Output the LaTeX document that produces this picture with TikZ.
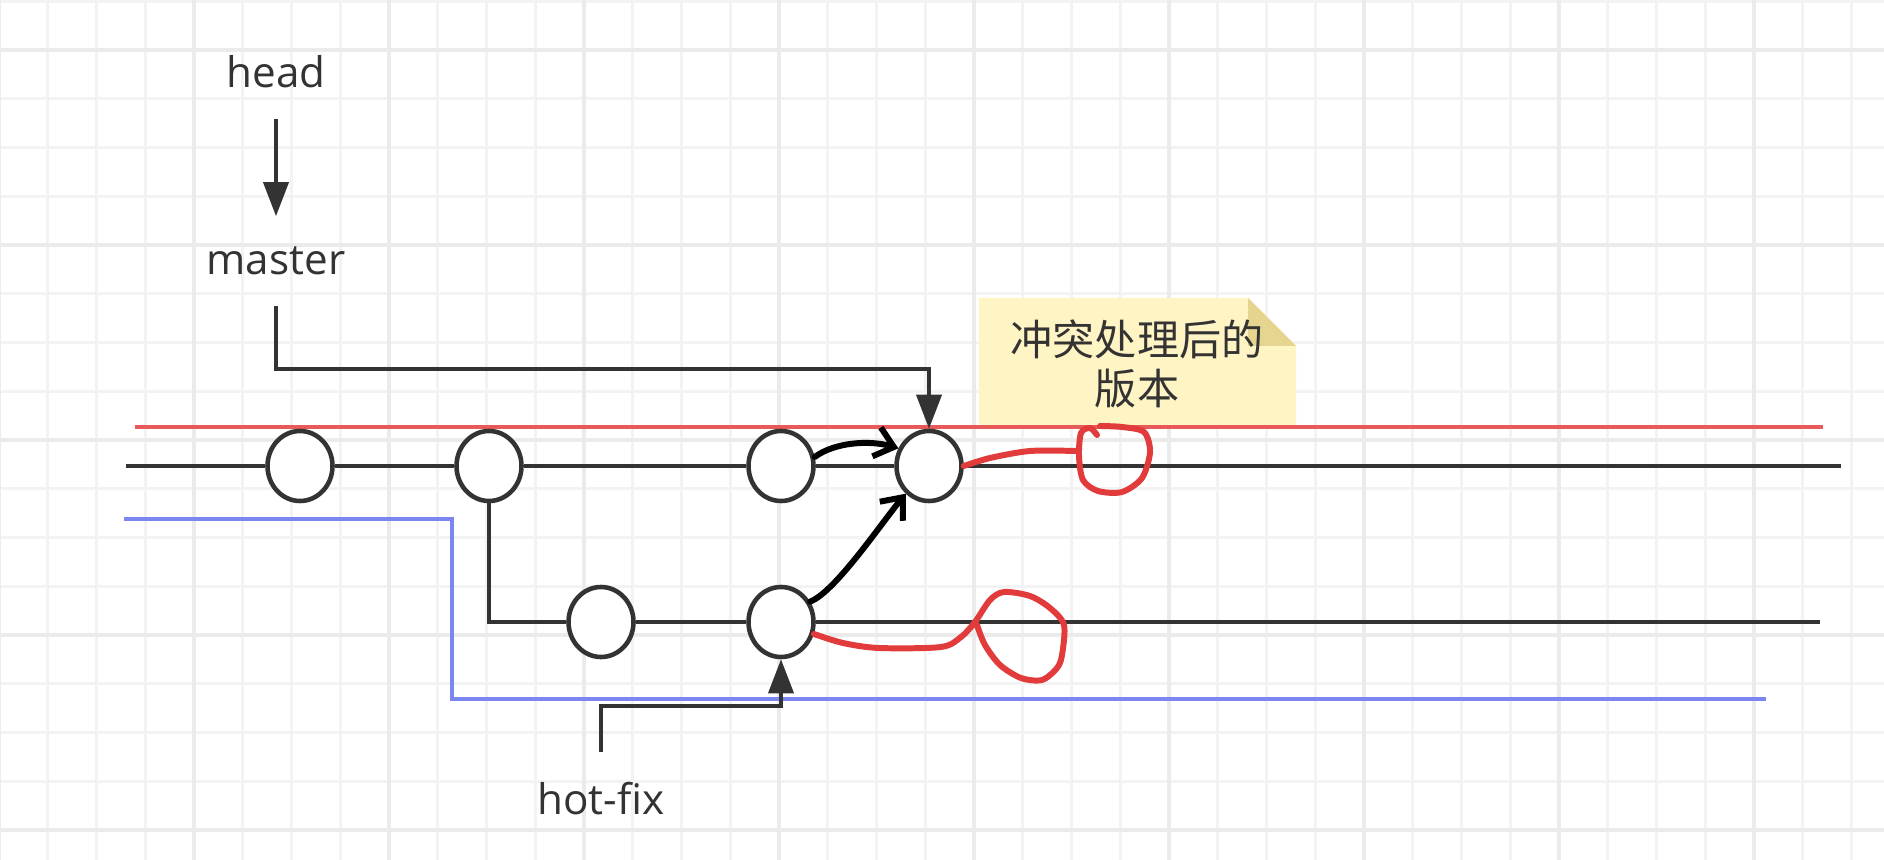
\documentclass[tikz,border=0pt]{standalone}
\usepackage{fontspec}
\setmainfont{Open Sans}
\newfontfamily\cjk{Noto Sans CJK SC}
\usepackage{tikz}
\usetikzlibrary{arrows.meta,calc,shapes.geometric}
\definecolor{inkgrey}{HTML}{333333}
\definecolor{gridminor}{HTML}{F3F3F3}
\definecolor{gridmajor}{HTML}{EBEBEB}
\definecolor{mergered}{HTML}{E8595A}
\definecolor{penred}{HTML}{E23B3B}
\definecolor{fixblue}{HTML}{7B86F0}
\definecolor{notefill}{HTML}{FFF4C3}
\definecolor{notefold}{HTML}{E6D590}

\begin{document}
\begin{tikzpicture}[x=0.1mm,y=-0.1mm,font=\fontsize{12}{13.7}\selectfont,
  commit/.style={ellipse,draw=inkgrey,line width=1.3pt,fill=white,
                 minimum width=6.5mm,minimum height=7mm,inner sep=0pt},
  track/.style={draw=inkgrey,line width=1.1pt},
  ptr/.style={track,-{Triangle[length=3.4mm,width=2.5mm]}},
  branchlabel/.style={text=inkgrey,inner sep=3mm},
  scribble/.style={line width=1.7pt,line cap=round,line join=round},
  gridthin/.style={draw=gridminor,line width=0.9pt},
  gridthick/.style={draw=gridmajor,line width=0.9pt}]
\fill[white] (0,0) rectangle (1884,860);
\useasboundingbox (0,0) rectangle (1884,860);
\foreach \k in {0,...,37} {\draw[gridthin] (47.75+48.75*\k,0) -- ++(0,860);}
\foreach \k in {0,...,17} {\draw[gridthin] (0,1.25+48.75*\k) -- ++(1884,0);}
\foreach \k in {0,...,9} {\draw[gridthick] (-1+195*\k,0) -- ++(0,860);}
\foreach \k in {0,...,4} {\draw[gridthick] (0,50+195*\k) -- ++(1884,0);}

\fill[notefill] (979,298) -- (1248,298) -- (1296,346) -- (1296,425) -- (979,425) -- cycle;
\fill[notefold] (1248,298) -- (1248,346) -- (1296,346) -- cycle;
\node[text=inkgrey,align=center,font={\cjk\fontsize{12}{13.7}\selectfont}] (note) at (1137,364) {冲突处理后的\\版本};

\coordinate (redL) at (135,427);
\coordinate (redR) at (1823,427);
\draw[mergered,line width=1.1pt] (redL) -- (redR);
\coordinate (blueL) at (124,519);
\coordinate (blueR) at (1766,699);
\draw[fixblue,line width=1.1pt] (blueL) -- ++(328,0) |- (blueR);

\node[commit] (c1) at (300,466) {};
\node[commit] (c2) at (489,466) {};
\node[commit] (c3) at (781,466) {};
\node[commit] (c4) at (929,466) {};
\node[commit] (b1) at (601,622) {};
\node[commit] (b2) at (781,622) {};
\coordinate (mainL) at (126,466);
\coordinate (mainR) at (1841,466);
\coordinate (fixR) at (1820,622);
\draw[track] (mainL) -- (c1) -- (c2) -- (c3) -- (c4) -- (mainR);
\draw[track] (c2) |- (b1) -- (b2) -- (fixR);

\node[branchlabel] (head) at (276,72) {head};
\node[branchlabel] (master) at (276,261) {master};
\node[branchlabel] (hotfix) at (601,799) {hot-fix};
\draw[ptr] (head) -- (master);
\draw[ptr] (master.south) -- ++(0,63) -| (c4);
\draw[ptr] (hotfix.north) -- ++(0,-46) -| (b2);

\draw[scribble,-{Straight Barb[length=1.8mm,width=3mm]}] (c3.15) .. controls (835,442) and (870,440) .. (c4.150);
\draw[scribble,-{Straight Barb[length=1.8mm,width=3mm]}] (b2.35) .. controls (835,592) and (880,525) .. (c4.230);
\draw[scribble,penred] plot[smooth] coordinates {(c4.east) (990,458) (1030,451) (1076,451)};
\draw[scribble,penred] plot[smooth] coordinates {(1097,435) (1090,428) (1081,433) (1079,456)
  (1083,480) (1098,491) (1122,492) (1142,478) (1150,452) (1144,432) (1122,427) (1100,426)};
\draw[scribble,penred] plot[smooth] coordinates {(b2.-20) (843,643) (879,648) (941,647) (961,637)
  (975,622) (990,600) (1004,592) (1030,596) (1050,608) (1064,625) (1062,655) (1057,668) (1042,680)
  (1021,678) (1000,665) (985,645) (977,625)};
\end{tikzpicture}
\end{document}
